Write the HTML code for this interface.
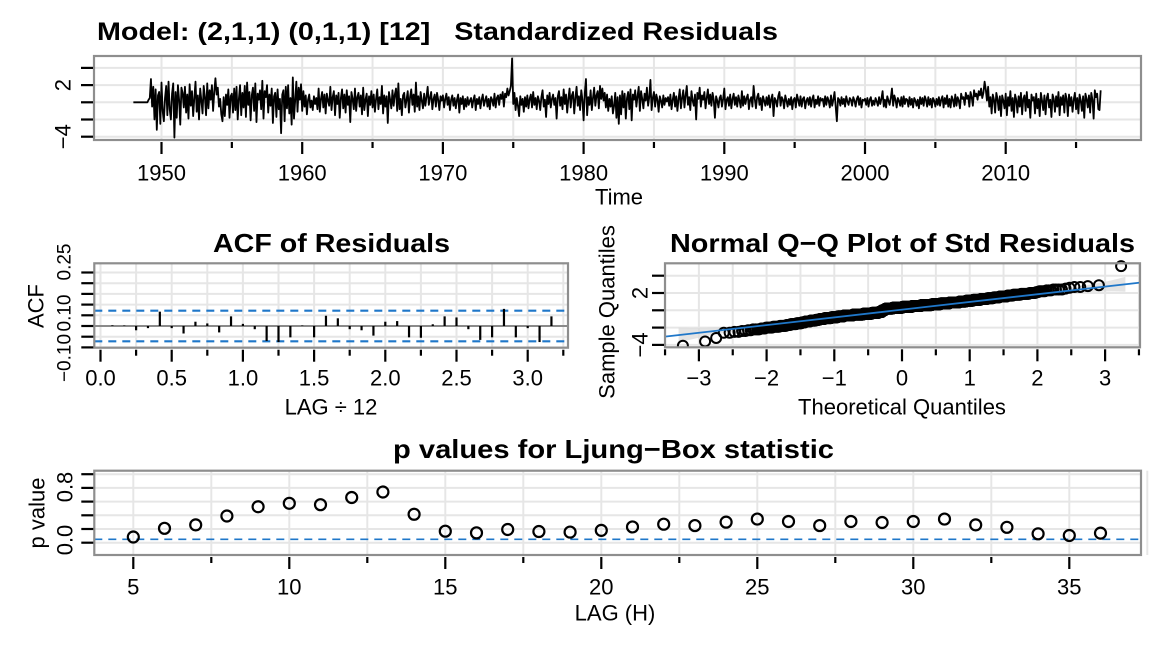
<!DOCTYPE html>
<html>
<head>
<meta charset="utf-8">
<style>
html,body{margin:0;padding:0;background:#fff;}
svg{display:block;font-family:"Liberation Sans",Arial,sans-serif;}
</style>
</head>
<body>
<svg id="chart" width="1176" height="652" viewBox="0 0 1176 652" xmlns="http://www.w3.org/2000/svg">
  <rect x="0" y="0" width="1176" height="652" fill="#fff"/>
  <text x="97" y="40" font-size="25" font-weight="bold" textLength="681" lengthAdjust="spacingAndGlyphs" xml:space="preserve" style="white-space:pre">Model: (2,1,1) (0,1,1) [12]   Standardized Residuals</text>
  <text x="213" y="252" font-size="26" font-weight="bold" textLength="237" lengthAdjust="spacingAndGlyphs">ACF of Residuals</text>
  <text x="670" y="252" font-size="26" font-weight="bold" textLength="465" lengthAdjust="spacingAndGlyphs">Normal Q−Q Plot of Std Residuals</text>
  <text x="393" y="458" font-size="26" font-weight="bold" textLength="441" lengthAdjust="spacingAndGlyphs">p values for Ljung−Box statistic</text>
  <g id="gTop"></g>
  <g id="gAcf"></g>
  <g id="gQQ"></g>
  <g id="gP"></g>
</svg>
<script>
// ---------- DATA ----------
const residStart = 1948;
const residFreq = 12;
const residuals = [
0,0,0,0,0,0,0,0,0,0,0,0,
0,0.3,0.5,2.7,-0.5,1.8,-2.0,1.5,-3.2,0.8,1.2,-2.5,
2.3,-1.0,-2.2,0.5,1.9,-1.5,2.4,-0.8,-2.0,1.0,2.2,-4.1,
1.2,-1.8,2.0,0.3,-2.6,1.7,1.1,-0.6,1.8,-1.2,0.9,-1.9,
2.1,-0.4,1.3,-1.6,0.5,2.4,-1.1,0.8,-2.0,1.6,0.2,-1.3,
1.9,0.6,-1.5,2.2,-0.7,1.4,0.3,2.0,-1.0,1.2,2.8,0.9,
1.7,-0.5,0.4,-1.4,-2.2,0.6,-1.6,0.9,-0.3,1.5,-1.8,0.7,
1.0,-1.2,1.6,-0.9,1.8,-2.0,0.4,2.0,-1.5,1.1,-0.6,1.9,
-1.7,2.3,-0.3,1.2,-2.1,0.8,1.7,-1.0,2.2,-2.3,1.0,0.3,
1.4,-0.8,2.5,-1.9,1.3,0.6,2.0,-1.2,0.9,-0.4,1.6,-2.4,
0.7,1.1,-1.7,1.5,-0.8,0.4,-3.6,0.9,1.4,-2.2,1.8,-0.7,
2.0,-1.3,0.5,-2.6,2.9,-1.9,0.2,2.4,-1.1,1.7,0.3,2.1,
-1.0,1.3,-0.5,0.8,-1.4,0.3,0.9,-0.6,0.2,-0.9,0.7,-0.2,
0.5,-0.8,1.6,-1.1,0.4,1.2,-0.6,0.9,-1.3,1.0,0.2,-0.4,
1.8,-0.9,0.6,1.3,-1.5,0.8,-0.2,1.1,-1.8,0.5,1.5,-0.7,
0.9,-1.2,1.4,-0.3,0.7,-2.3,1.2,0.4,-0.8,1.6,-1.0,0.6,
1.1,-0.5,0.8,-1.4,1.7,-0.9,0.3,1.0,-1.6,0.7,-0.3,1.3,
-0.6,0.9,-1.1,0.4,1.5,-0.8,0.6,-0.2,1.9,-1.3,0.8,-0.5,
0.7,-2.4,1.2,0.3,-0.7,1.4,-0.4,0.9,1.6,-1.0,2.2,-0.8,
0.4,-1.5,0.8,1.1,-0.6,0.3,1.3,-1.2,0.6,1.5,-0.3,0.9,
-1.1,2.3,-0.5,0.7,-0.9,1.2,0.2,-0.7,1.0,-0.4,0.6,1.8,
-0.3,0.5,1.2,-0.8,0.4,0.9,-0.5,1.1,0.3,-0.9,0.7,0.2,
0.8,-0.6,0.4,1.0,-0.3,0.6,-0.9,0.3,0.8,-0.4,0.5,-0.7,
0.3,0.9,-1.2,0.5,-0.2,0.7,-0.8,0.4,-0.5,0.6,-0.3,0.2,
0.5,-0.6,0.3,0.8,-0.9,0.4,-0.2,0.6,-0.7,0.3,0.9,-0.4,
0.2,0.7,-0.5,0.4,-0.8,0.6,0.3,-0.4,1.0,-0.6,0.5,0.8,
-0.3,0.9,0.4,1.2,-0.5,1.0,0.6,1.6,0.8,1.3,1.9,5.1,
-0.2,1.1,-0.9,0.5,-0.4,-1.6,0.7,-0.3,0.4,-1.1,0.6,-0.5,
0.8,-0.7,0.4,0.9,-0.6,1.2,-0.3,0.5,-0.8,0.7,0.2,-0.9,
0.6,1.4,-0.5,0.3,-1.7,0.8,-0.2,1.1,-0.6,0.4,0.9,-0.3,
0.5,-1.9,0.7,1.3,-0.4,0.6,-0.8,1.5,-0.2,0.9,-1.2,0.4,
1.6,-0.6,0.8,1.2,-1.3,0.5,1.8,-0.4,0.7,-0.9,1.4,0.3,
-2.1,1.0,2.7,-1.5,0.6,-0.3,1.4,-0.9,0.5,1.7,-0.4,0.8,
1.3,-0.7,1.9,0.4,1.6,0.2,1.1,-0.6,0.9,-1.0,0.4,-0.5,
0.7,-1.3,-0.4,1.1,-1.8,0.6,-2.5,0.8,-1.4,1.3,-0.6,1.0,
-1.9,0.5,1.2,-0.8,1.5,-2.1,0.9,0.3,1.4,-0.5,0.7,1.8,
-1.0,1.3,0.4,-0.7,1.0,0.2,1.7,-0.4,0.6,2.6,-0.9,0.5,
1.2,-0.5,0.9,0.3,-1.1,0.7,0.2,-0.6,0.8,-0.3,0.5,0.1,
0.6,-0.4,0.9,-0.8,0.3,1.1,-0.5,0.7,-1.0,0.4,1.5,-0.7,
0.5,1.4,-0.6,0.8,1.9,-0.3,0.6,-0.9,1.3,0.2,-0.4,0.9,
-2.0,1.1,0.4,1.7,-0.5,0.8,0.3,1.2,-0.7,0.5,1.5,-0.2,
0.9,-0.4,1.1,0.3,-1.8,0.7,0.2,-0.6,0.5,0.8,-0.5,0.4,
1.6,-0.8,0.3,0.6,-0.4,0.9,-0.7,0.4,1.0,-0.3,0.6,-0.5,
0.8,0.2,-0.6,1.3,-0.4,0.7,-0.2,0.5,0.9,-0.8,0.3,0.6,
-0.5,1.9,0.4,-0.7,0.6,1.0,-0.3,0.5,-0.9,0.7,0.2,-0.4,
0.6,-0.3,0.8,-0.6,0.4,0.9,-1.6,0.5,0.2,-0.5,0.7,1.2,
-0.4,0.6,0.3,-0.7,0.8,0.2,-0.5,0.4,-0.3,0.6,-0.8,0.3,
0.5,-0.6,0.9,0.3,-0.4,0.7,-0.5,0.4,0.6,-0.7,0.2,0.5,
-0.3,0.6,-0.5,0.4,0.8,-0.6,0.3,-0.2,0.7,-0.4,0.5,0.2,
0.4,-0.5,0.7,-0.3,0.6,0.2,-0.6,0.8,-0.4,0.3,1.2,-0.5,
-2.2,0.5,0.3,-0.4,0.6,-0.2,0.4,-0.5,0.7,0.1,-0.3,0.5,
0.3,-0.4,0.6,0.2,-0.5,0.4,0.7,-0.3,0.5,-0.6,0.3,0.2,
0.4,-0.3,0.5,-0.5,0.3,0.6,-0.4,0.2,-0.3,0.5,0.1,-0.4,
0.6,-0.2,0.4,1.3,-0.5,0.3,-0.6,0.7,0.2,-0.3,0.5,1.6,
-0.4,0.8,0.3,-0.6,0.5,0.2,-0.4,0.6,-0.5,0.7,-0.2,0.4,
0.3,-0.5,0.6,-0.3,0.4,-0.6,0.5,0.2,-0.4,0.3,-0.7,0.6,
-0.2,0.5,-0.4,0.7,0.3,-0.5,0.6,-0.3,0.4,-0.6,0.5,0.2,
-0.5,0.4,-0.3,0.6,-0.4,0.3,0.7,-0.6,0.5,-0.2,0.8,-0.5,
0.4,-0.6,0.7,0.3,-0.5,0.9,-0.4,0.6,0.2,-0.7,1.0,0.4,
0.6,-0.3,1.1,0.4,0.8,-0.5,1.2,0.6,-0.4,1.4,0.7,1.0,
0.3,1.3,0.8,1.6,0.5,1.1,2.4,1.5,0.2,1.8,-0.5,0.6,
-1.3,0.9,0.3,-1.2,1.1,0.4,-0.9,0.7,-1.6,0.8,0.2,-0.7,
1.0,-1.5,0.6,-0.4,1.3,-1.0,0.5,-1.7,0.9,0.3,-1.2,0.7,
-0.5,1.1,-1.4,0.4,0.8,-1.0,1.2,-0.6,0.3,-1.8,0.9,0.2,
0.6,-1.3,1.0,-0.7,0.4,-1.6,1.1,0.2,-0.9,0.8,-1.4,0.5,
1.0,-0.6,0.3,-1.7,0.9,0.4,-1.1,0.7,-0.5,1.2,-1.5,0.6,
-0.3,0.8,-1.2,1.0,0.4,-1.6,0.9,-0.4,0.6,-1.1,0.3,1.1,
-0.8,0.5,-1.3,0.9,0.2,-1.0,0.7,-1.8,1.0,0.4,-0.6,0.8,
-1.2,1.1,0.3,-1.9,1.4,0.6,1.0,-0.8,-0.9,1.4
];
const topYearTicks = [1950,1960,1970,1980,1990,2000,2010];
const topYTickLabels = ["2","−4"];
const topYTickValues = [2,-4];

const acfLags = [1,2,3,4,5,6,7,8,9,10,11,12,13,14,15,16,17,18,19,20,21,22,23,24,25,26,27,28,29,30,31,32,33,34,35,36,37,38];
const acfValues = [0.003,0.002,-0.02,-0.01,0.067,-0.01,-0.035,0.02,0.012,-0.03,0.045,0.01,-0.015,-0.07,-0.075,-0.053,0.002,-0.053,0.048,0.036,-0.015,-0.02,-0.045,0.02,0.023,-0.053,-0.055,0.008,0.045,0.04,-0.015,-0.065,-0.053,0.08,-0.053,-0.01,-0.075,0.045];
const acfBound = 0.0715;
const acfXTickLabels = ["0.0","0.5","1.0","1.5","2.0","2.5","3.0"];
const acfYTickLabels = ["−0.10","0.10","0.25"];

const qqXTickLabels = ["−3","−2","−1","0","1","2","3"];
const qqYTickLabels = ["2","−4"];
const qqLineIntercept = 0.07;
const qqLineSlope = 0.89;

const lbLags = [5,6,7,8,9,10,11,12,13,14,15,16,17,18,19,20,21,22,23,24,25,26,27,28,29,30,31,32,33,34,35,36];
const lbPValues = [0.083,0.21,0.26,0.39,0.525,0.575,0.555,0.66,0.74,0.415,0.168,0.144,0.193,0.163,0.155,0.18,0.23,0.27,0.25,0.30,0.345,0.31,0.25,0.31,0.295,0.31,0.345,0.26,0.225,0.13,0.105,0.14];
const lbXTickLabels = ["5","10","15","20","25","30","35"];
const lbYTickLabels = ["0.0","0.8"];
const lbAlpha = 0.05;

// ---------- HELPERS ----------
const NS = "http://www.w3.org/2000/svg";
const FS = 22;
function mk(parent, tag, attrs, text){
  const e = document.createElementNS(NS, tag);
  for (const k in attrs) e.setAttribute(k, attrs[k]);
  if (text !== undefined) e.textContent = text;
  parent.appendChild(e);
  return e;
}
const GRID = "#e6e6e6", BORDER = "#8e8e8e", BLUE = "#1f77c9";
function frame(g, L, T, R, B){
  const r = mk(g, "rect", {x:L, y:T, width:R-L, height:B-T, fill:"none", stroke:BORDER, "stroke-width":2.2});
  
  
}
function hgrid(g, L, R, y){
  const l = mk(g, "line", {x1:L, x2:R, y1:y, y2:y, stroke:GRID, "stroke-width":2});
  
  
}
function vgrid(g, T, B, x){
  const l = mk(g, "line", {x1:x, x2:x, y1:T, y2:B, stroke:GRID, "stroke-width":2});
  
  
}
function ytick(g, L, y){
  const l = mk(g, "line", {x1:L-13, x2:L-1, y1:y, y2:y, stroke:"#000", "stroke-width":2.2});
  
  
}
function xtick(g, B, x, major){
  const l = mk(g, "line", {x1:x, x2:x, y1:B+2, y2:B+(major?14:8), stroke:"#000", "stroke-width":2.2});
  
  
}
function label(g, x, y, txt, name, size, rot){
  const a = {x:x, y:y, "font-size":size||FS, "text-anchor":"middle", "dominant-baseline":"central"};
  if (rot) a.transform = "rotate(-90 "+x+" "+y+")";
  const t = mk(g, "text", a, txt);
  
  
  return t;
}

// ---------- TOP: standardized residuals ----------
(function(){
  const g = document.getElementById("gTop");
  const L=94, R=1141, T=56, B=140;
  const xS = yr => 161.5 + (yr-1950)*14.07;
  const yS = v => 102.3 - v*8.6;
  for (let v=-4; v<=4; v+=2) hgrid(g, L, R, yS(v));
  for (let yr=1950; yr<=2015; yr+=5) vgrid(g, T, B, xS(yr));
  let pts = [];
  residuals.forEach((v,i)=>{ pts.push(xS(residStart + i/residFreq).toFixed(2)+","+yS(v).toFixed(2)); });
  const pl = mk(g, "polyline", {points:pts.join(" "), fill:"none", stroke:"#000", "stroke-width":1.8, "stroke-linejoin":"round"});
  
  
  frame(g, L, T, R, B);
  for (let v=-4; v<=4; v+=2) ytick(g, L, yS(v));
  topYTickValues.forEach((v,i)=> label(g, 63, yS(v), topYTickLabels[i], "y-tick-label", FS, true));
  for (let yr=1950; yr<=2015; yr+=5) xtick(g, B, xS(yr), yr%10===0);
  topYearTicks.forEach(yr => label(g, xS(yr), 173, String(yr), "x-tick-label", FS));
  label(g, 619, 197, "Time", "x-axis-title", FS);
})();

// ---------- ACF ----------
(function(){
  const g = document.getElementById("gAcf");
  const L=94.3, R=568, T=263.3, B=347.7;
  const xS = l => 100.5 + l*142.4;
  const yS = v => 326 - v*214;
  for (let k=-2; k<=5; k++) hgrid(g, L, R, yS(k*0.05));
  for (let k=0; k<=13; k++) vgrid(g, T, B, xS(k*0.25));
  const z = mk(g, "line", {x1:L, x2:R, y1:yS(0), y2:yS(0), stroke:"#8a8a8a", "stroke-width":2});
  
  
  [acfBound, -acfBound].forEach(b=>{
    const d = mk(g, "line", {x1:L, x2:R, y1:yS(b), y2:yS(b), stroke:BLUE, "stroke-width":2.2, "stroke-dasharray":"8,6"});
    
    
  });
  acfLags.forEach((lag,i)=>{
    const x = xS(lag/12);
    const b = mk(g, "line", {x1:x, x2:x, y1:yS(0), y2:yS(acfValues[i]), stroke:"#000", "stroke-width":2.2});
    
    
  });
  frame(g, L, T, R, B);
  for (let k=-2; k<=5; k++) ytick(g, L, yS(k*0.05));
  label(g, 65, 358, acfYTickLabels[0], "y-tick-label", 19, true);
  label(g, 65, 313, acfYTickLabels[1], "y-tick-label", 19, true);
  label(g, 65, 262, acfYTickLabels[2], "y-tick-label", 19, true);
  label(g, 36, 306, "ACF", "y-axis-title", FS, true);
  for (let k=0; k<=13; k++) xtick(g, B, xS(k*0.25), k%2===0);
  acfXTickLabels.forEach((t,i)=> label(g, xS(i*0.5), 378, t, "x-tick-label", FS));
  label(g, 331, 407, "LAG ÷ 12", "x-axis-title", FS);
})();

// ---------- QQ ----------
function qnorm(p){
  const a=[-39.69683028665376,220.9460984245205,-275.9285104469687,138.3577518672690,-30.66479806614716,2.506628277459239];
  const b=[-54.47609879822406,161.5858368580409,-155.6989798598866,66.80131188771972,-13.28068155288572];
  const c=[-0.007784894002430293,-0.3223964580411365,-2.400758277161838,-2.549732539343734,4.374664141464968,2.938163982698783];
  const d=[0.007784695709041462,0.3224671290700398,2.445134137142996,3.754408661907416];
  const pl=0.02425;
  let q,r;
  if (p<pl){ q=Math.sqrt(-2*Math.log(p)); return (((((c[0]*q+c[1])*q+c[2])*q+c[3])*q+c[4])*q+c[5])/((((d[0]*q+d[1])*q+d[2])*q+d[3])*q+1); }
  if (p>1-pl){ q=Math.sqrt(-2*Math.log(1-p)); return -(((((c[0]*q+c[1])*q+c[2])*q+c[3])*q+c[4])*q+c[5])/((((d[0]*q+d[1])*q+d[2])*q+d[3])*q+1); }
  q=p-0.5; r=q*q;
  return (((((a[0]*r+a[1])*r+a[2])*r+a[3])*r+a[4])*r+a[5])*q/(((((b[0]*r+b[1])*r+b[2])*r+b[3])*r+b[4])*r+1);
}
function erf(x){
  const t=1/(1+0.3275911*Math.abs(x));
  const y=1-(((((1.061405429*t-1.453152027)*t)+1.421413741)*t-0.284496736)*t+0.254829592)*t*Math.exp(-x*x);
  return x>=0?y:-y;
}
(function(){
  const g = document.getElementById("gQQ");
  const L=665, R=1140, T=263.3, B=347.3;
  const xS = q => 902 + q*67.7;
  const yS = v => 310.3 - v*8.65;
  for (let v=-4; v<=4; v+=2) hgrid(g, L, R, yS(v));
  for (let k=-7; k<=7; k++) vgrid(g, T, B, xS(k*0.5));
  const sorted = residuals.slice().sort((a,b)=>a-b);
  const n = sorted.length;
  let up=[], lo=[];
  for (let k=0; k<=66; k++){
    const q = -3.3 + k*0.1;
    const p = 0.5*(1+erf(q/Math.SQRT2));
    const dens = Math.exp(-q*q/2)/Math.sqrt(2*Math.PI);
    const se = qqLineSlope*Math.sqrt(p*(1-p)/n)/dens*2.2;
    const fit = qqLineIntercept + qqLineSlope*q;
    up.push(xS(q).toFixed(1)+","+yS(fit+se).toFixed(1));
    lo.unshift(xS(q).toFixed(1)+","+yS(fit-se).toFixed(1));
  }
  const band = mk(g, "polygon", {points:up.concat(lo).join(" "), fill:"#d9d9d9", "fill-opacity":0.7, stroke:"none"});
  
  
  const clip = mk(g, "clipPath", {id:"qqclip"});
  mk(clip, "rect", {x:L, y:T-14, width:R-L+12, height:B-T+14});
  const pg = mk(g, "g", {"clip-path":"url(#qqclip)"});
  
  
  sorted.forEach((v,i)=>{
    const q = qnorm((i+1-0.5)/n);
    const c = mk(pg, "circle", {cx:xS(q), cy:yS(v), r:5, fill:"none", stroke:"#000", "stroke-width":2});
    
    
  });
  const ln = mk(g, "line", {x1:L, x2:R, y1:yS(qqLineIntercept+qqLineSlope*(-3.5)), y2:yS(qqLineIntercept+qqLineSlope*3.52), stroke:BLUE, "stroke-width":1.8});
  
  
  frame(g, L, T, R, B);
  for (let v=-4; v<=4; v+=2) ytick(g, L, yS(v));
  label(g, 640, yS(2), qqYTickLabels[0], "y-tick-label", FS, true);
  label(g, 640, yS(-4), qqYTickLabels[1], "y-tick-label", FS, true);
  label(g, 607, 312, "Sample Quantiles", "y-axis-title", FS, true);
  for (let k=-7; k<=7; k++) xtick(g, B, xS(k*0.5), k%2===0 && Math.abs(k)<=6);
  qqXTickLabels.forEach((t,i)=> label(g, xS(i-3), 378, t, "x-tick-label", FS));
  label(g, 902, 407, "Theoretical Quantiles", "x-axis-title", FS);
})();

// ---------- Ljung-Box ----------
(function(){
  const g = document.getElementById("gP");
  const L=94.3, R=1141, T=470.7, B=555;
  const xS = h => 133.3 + (h-5)*31.2;
  const yS = v => 542.7 - v*68.5;
  for (let k=0; k<=5; k++) hgrid(g, L, R, yS(k*0.2));
  for (let h=5; h<=37.5; h+=2.5) vgrid(g, T, B, xS(h));
  const d = mk(g, "line", {x1:L, x2:R, y1:yS(lbAlpha), y2:yS(lbAlpha), stroke:BLUE, "stroke-width":1.6, "stroke-dasharray":"8,6"});
  
  
  lbLags.forEach((h,i)=>{
    const c = mk(g, "circle", {cx:xS(h), cy:yS(lbPValues[i]), r:5.5, fill:"none", stroke:"#000", "stroke-width":2.2});
    
    
  });
  frame(g, L, T, R, B);
  for (let k=0; k<=5; k++) ytick(g, L, yS(k*0.2));
  label(g, 65, 540, lbYTickLabels[0], "y-tick-label", FS, true);
  label(g, 65, 487, lbYTickLabels[1], "y-tick-label", FS, true);
  label(g, 37, 513, "p value", "y-axis-title", FS, true);
  for (let h=5; h<=35; h+=2.5) xtick(g, B, xS(h), (h%5)===0);
  lbXTickLabels.forEach((t,i)=> label(g, xS(5+i*5), 587, t, "x-tick-label", FS));
  label(g, 615, 613, "LAG (H)", "x-axis-title", FS);
})();
</script>
</body>
</html>
